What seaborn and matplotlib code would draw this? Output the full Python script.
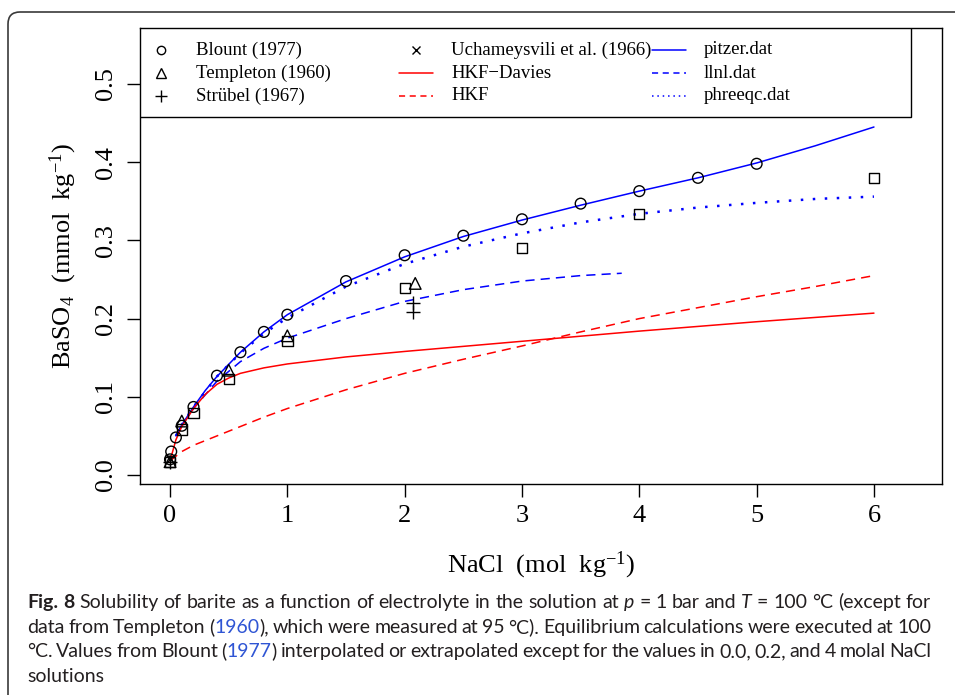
import matplotlib
matplotlib.use("Agg")
import matplotlib.pyplot as plt
import seaborn as sns
from matplotlib.patches import FancyBboxPatch, Rectangle
from matplotlib.transforms import IdentityTransform
from matplotlib import font_manager

# measured solubilities (mmol/kg) vs NaCl (mol/kg)
blount_x = [0.0, 0.01, 0.05, 0.1, 0.2, 0.4, 0.6, 0.8, 1.0, 1.5, 2.0, 2.5, 3.0, 3.5, 4.0, 4.5, 5.0]
blount_y = [0.020, 0.030, 0.048, 0.063, 0.087, 0.127, 0.157, 0.183, 0.205, 0.248, 0.281, 0.306, 0.327, 0.347, 0.363, 0.380, 0.398]

templeton_x = [0.0, 0.1, 0.5, 1.0, 2.09]
templeton_y = [0.017, 0.069, 0.134, 0.178, 0.245]

strubel_x = [0.0, 2.07, 2.07]
strubel_y = [0.016, 0.220, 0.209]

ucham_x = [0.0]
ucham_y = [0.021]

square_x = [0.0, 0.1, 0.2, 0.5, 1.0, 2.0, 3.0, 4.0, 6.0]
square_y = [0.017, 0.058, 0.079, 0.123, 0.171, 0.239, 0.290, 0.334, 0.380]

# model curves
pitzer_x = [0.05, 0.1, 0.2, 0.3, 0.4, 0.6, 0.8, 1.0, 1.5, 2.0, 2.5, 3.0, 3.5, 4.0, 4.5, 5.0, 5.5, 6.0]
pitzer_y = [0.050, 0.064, 0.087, 0.108, 0.126, 0.157, 0.183, 0.205, 0.247, 0.279, 0.305, 0.326, 0.345, 0.363, 0.380, 0.399, 0.421, 0.445]

phreeqc_x = [0.05, 0.1, 0.2, 0.4, 0.6, 0.8, 1.0, 1.5, 2.0, 2.5, 3.0, 3.5, 4.0, 4.5, 5.0, 5.5, 6.0]
phreeqc_y = [0.050, 0.064, 0.087, 0.126, 0.156, 0.181, 0.201, 0.241, 0.270, 0.292, 0.309, 0.323, 0.334, 0.342, 0.348, 0.353, 0.356]

llnl_x = [0.05, 0.1, 0.2, 0.4, 0.6, 0.8, 1.0, 1.5, 2.0, 2.5, 3.0, 3.5, 3.85]
llnl_y = [0.050, 0.063, 0.085, 0.120, 0.145, 0.162, 0.175, 0.200, 0.222, 0.237, 0.248, 0.255, 0.258]

davies_x = [0.0, 0.05, 0.1, 0.2, 0.3, 0.4, 0.5, 0.6, 0.8, 1.0, 1.5, 2.0, 3.0, 4.0, 5.0, 6.0]
davies_y = [0.018, 0.045, 0.062, 0.085, 0.103, 0.116, 0.124, 0.130, 0.137, 0.142, 0.151, 0.158, 0.171, 0.184, 0.196, 0.207]

hkf_x = [0.0, 0.1, 0.2, 0.4, 0.6, 0.8, 1.0, 1.5, 2.0, 2.5, 3.0, 3.5, 4.0, 4.5, 5.0, 5.5, 6.0]
hkf_y = [0.018, 0.030, 0.038, 0.050, 0.062, 0.074, 0.085, 0.109, 0.130, 0.148, 0.165, 0.183, 0.200, 0.214, 0.228, 0.241, 0.255]

x_ticks = [0, 1, 2, 3, 4, 5, 6]
y_ticks = [0.0, 0.1, 0.2, 0.3, 0.4, 0.5]

sns.set_theme(style="ticks")
serif = "Liberation Serif"
plt.rcParams["font.family"] = [serif, "DejaVu Serif"]
plt.rcParams["mathtext.fontset"] = "custom"
plt.rcParams["mathtext.rm"] = serif
plt.rcParams["mathtext.it"] = serif + ":italic"

W, H = 955, 695
fig = plt.figure(figsize=(W / 100, H / 100), dpi=100)
fig.patch.set_facecolor("white")
ax = fig.add_axes([140 / W, 1 - 484 / H, 802 / W, 456 / H])
ax.set_facecolor("white")

# curves
sns.lineplot(x=pitzer_x, y=pitzer_y, ax=ax, color="blue", lw=1.1, estimator=None, sort=False)
sns.lineplot(x=llnl_x, y=llnl_y, ax=ax, color="blue", lw=1.1, linestyle=(0, (6, 4)), estimator=None, sort=False)
sns.lineplot(x=phreeqc_x, y=phreeqc_y, ax=ax, color="blue", lw=1.8, linestyle=(0, (1, 3.8)), estimator=None, sort=False)
sns.lineplot(x=davies_x, y=davies_y, ax=ax, color="red", lw=1.1, estimator=None, sort=False)
sns.lineplot(x=hkf_x, y=hkf_y, ax=ax, color="red", lw=1.1, linestyle=(0, (6, 4)), estimator=None, sort=False)

# measured points
sns.scatterplot(x=square_x, y=square_y, ax=ax, marker="s", s=55, facecolor="none", edgecolor="black", linewidth=1, zorder=4)
sns.scatterplot(x=blount_x, y=blount_y, ax=ax, marker="o", s=60, facecolor="none", edgecolor="black", linewidth=1, zorder=4)
sns.scatterplot(x=templeton_x, y=templeton_y, ax=ax, marker="^", s=70, facecolor="none", edgecolor="black", linewidth=1, zorder=4)
sns.scatterplot(x=strubel_x, y=strubel_y, ax=ax, marker="+", s=110, color="black", linewidth=1, zorder=4)
sns.scatterplot(x=ucham_x, y=ucham_y, ax=ax, marker="x", s=50, color="black", linewidth=1, zorder=4)

ax.set_xlim(-0.256, 6.58)
ax.set_ylim(-0.0115, 0.5716)
ax.set_xticks(x_ticks)
ax.set_xticklabels([str(v) for v in x_ticks])
ax.set_yticks(y_ticks)
ax.set_yticklabels([f"{v:.1f}" for v in y_ticks], rotation=90, va="center")
ax.tick_params(axis="both", length=9.4, width=1, color="black", labelsize=19, labelcolor="black", direction="out")
ax.tick_params(axis="x", pad=6)
ax.tick_params(axis="y", pad=7)
for sp in ax.spines.values():
    sp.set_visible(True)
    sp.set_color("black")
    sp.set_linewidth(1)

ax.set_xlabel(r"NaCl  (mol  kg$^{-1}$)", fontsize=19, color="black", labelpad=16)
ax.set_ylabel(r"BaSO$_4$  (mmol  kg$^{-1}$)", fontsize=19, color="black", labelpad=12)


# legend box drawn the way R lays it out (equal column widths)
def afr(px, py):
    return ((px - 140) / 802, (484 - py) / 456)


x0, y0 = afr(140, 117)
x1, y1 = afr(911, 28)
ax.add_patch(Rectangle((x0, y0), x1 - x0, y1 - y0, transform=ax.transAxes,
                       facecolor="white", edgecolor="black", lw=1, zorder=6))

rows = [50, 73, 96]
col_start = [144, 399, 652]
seg = 34
legend_items = [
    ("Blount (1977)", dict(marker="o", ls="none", mfc="none", mec="black", ms=6)),
    ("Templeton (1960)", dict(marker="^", ls="none", mfc="none", mec="black", ms=7)),
    ("Strübel (1967)", dict(marker="+", ls="none", mec="black", ms=9)),
    ("Uchameysvili et al. (1966)", dict(marker="x", ls="none", mec="black", ms=6)),
    ("HKF\u2212Davies", dict(color="red", lw=1.1, ls="-")),
    ("HKF", dict(color="red", lw=1.1, ls=(0, (4, 3)))),
    ("pitzer.dat", dict(color="blue", lw=1.1, ls="-")),
    ("llnl.dat", dict(color="blue", lw=1.1, ls=(0, (4, 3)))),
    ("phreeqc.dat", dict(color="blue", lw=1.1, ls=(0, (1, 2.5)))),
]
for i, (label, style) in enumerate(legend_items):
    col, row = divmod(i, 3)
    py = rows[row]
    xs = col_start[col]
    if style.get("marker"):
        hx = [afr(xs + seg / 2, py)[0]]
        hy = [afr(xs + seg / 2, py)[1]]
    else:
        hx = [afr(xs, py)[0], afr(xs + seg, py)[0]]
        hy = [afr(xs, py)[1]] * 2
    ax.plot(hx, hy, transform=ax.transAxes, clip_on=False, zorder=7, mew=1, **style)
    tx, ty = afr(xs + seg + 18, py)
    ax.text(tx, ty, label, transform=ax.transAxes, fontsize=13.5, va="center", ha="left",
            color="black", zorder=7)

# outer journal frame with rounded corners
fig.add_artist(FancyBboxPatch((8, -30), 1000, H - 12 + 30,
                              boxstyle="round,pad=0,rounding_size=12",
                              transform=IdentityTransform(), facecolor="none",
                              edgecolor="#3a3a3a", lw=1.2))

# caption
available = {f.name for f in font_manager.fontManager.ttflist}
cap_font = "Liberation Sans Narrow" if "Liberation Sans Narrow" in available else "Lato"
ink = "#231f20"
link = "#2f55d4"
caption = [
    [("Fig. 8", "b"), ("  Solubility of barite as a function of electrolyte in the solution at ", "n"),
     ("p", "it"), (" = 1 bar and ", "n"), ("T", "it"), (" = 100 °C (except for", "n")],
    [("data from Templeton (", "n"), ("1960", "link"),
     ("), which were measured at 95 °C). Equilibrium calculations were executed at 100", "n")],
    [("°C. Values from Blount (", "n"), ("1977", "link"),
     (") interpolated or extrapolated except for the values in 0.0, 0.2, and 4 molal NaCl", "n")],
    [("solutions", "n")],
]
cap_base = [608, 633, 657, 682]
cap_x0, cap_x1 = 27, 931
renderer = fig.canvas.get_renderer()


def words_of(pieces):
    words = [[]]
    for text, kind in pieces:
        parts = text.split(" ")
        for k, part in enumerate(parts):
            if k > 0:
                words.append([])
            if part:
                words[-1].append((part, kind))
    return [w for w in words if w]


def make_text(s, kind, size):
    return fig.text(0, 0, s, fontsize=size, family=[cap_font, "DejaVu Sans"],
                    color=link if kind == "link" else ink,
                    fontweight="bold" if kind == "b" else "normal",
                    fontstyle="italic" if kind == "it" else "normal",
                    va="baseline", ha="left")


def measure(s, kind, size):
    t = make_text(s, kind, size)
    w = t.get_window_extent(renderer).width
    t.remove()
    return w


# fit caption size so the first line's natural width matches the reference
size = 10
wsum = sum(measure(p, k, size) for w in words_of(caption[0]) for p, k in w)
space = measure("a a", "n", size) - measure("aa", "n", size)
natural = wsum + space * (len(words_of(caption[0])) - 1)
size = size * (cap_x1 - cap_x0) / natural

for li, pieces in enumerate(caption):
    words = words_of(pieces)
    widths = [[measure(p, k, size) for p, k in w] for w in words]
    total = sum(sum(ws) for ws in widths)
    gap = measure("a a", "n", size) - measure("aa", "n", size)
    if li < len(caption) - 1 and len(words) > 1:
        gap = (cap_x1 - cap_x0 - total) / (len(words) - 1)
    x = cap_x0
    for w, ws in zip(words, widths):
        for (p, k), pw in zip(w, ws):
            t = make_text(p, k, size)
            t.set_position((x / W, 1 - cap_base[li] / H))
            x += pw
        x += gap

fig.savefig("out.png", dpi=100, facecolor="white")
